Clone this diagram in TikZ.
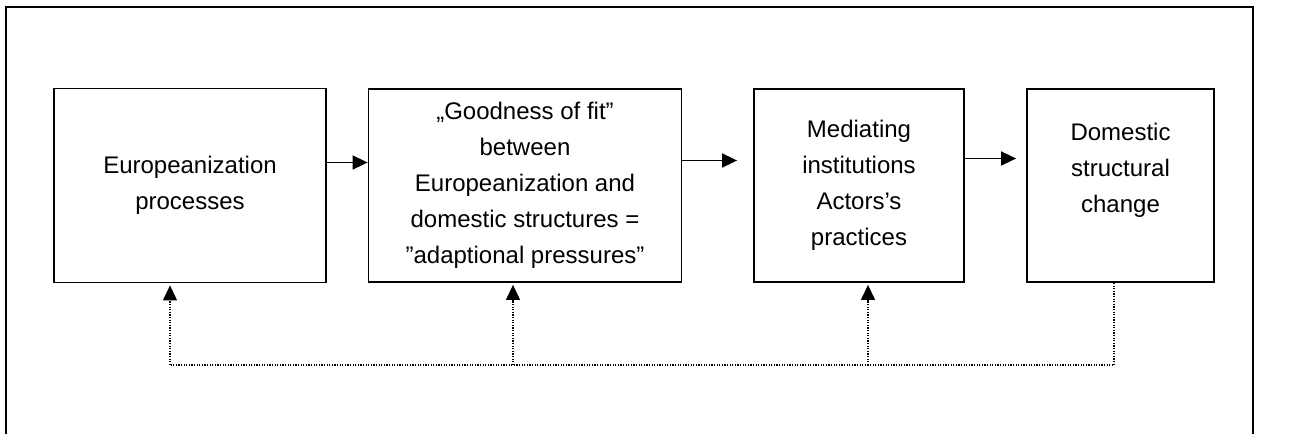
\documentclass[tikz,border=0pt]{standalone}
\usepackage{fontspec}
\setmainfont{Liberation Sans}
\usetikzlibrary{arrows.meta,positioning}

\begin{document}
\begin{tikzpicture}[x=0.5pt,y=-0.5pt,
    stagebox/.style={draw,line width=0.9pt,align=center,inner sep=2pt,
                     font=\fontsize{12}{18}\selectfont},
    flow/.style={line width=0.8pt,-{Triangle[length=7.5pt,width=7pt]}},
    feedback/.style={line width=0.6pt,dash pattern=on 0.6pt off 0.7pt},
    feedarrow/.style={feedback,-{Triangle[length=7.5pt,width=7pt]},shorten >=1pt},
]
\useasboundingbox (0,0) rectangle (1295,434);

% ---- y positions ---------------------------------------------------------
\def\yBox{185.5}
\def\yLoop{365}

% ---- Outer frame ---------------------------------------------------------
\draw[line width=0.8pt] (6,434) -- (6,7) -- (1253,7) -- (1253,434);

% ---- Boxes ---------------------------------------------------------------
\node[stagebox,minimum width=136pt,minimum height=97pt] (europ) at (190,\yBox)
    {Europeanization\\processes};
\node[stagebox,minimum width=156.5pt,minimum height=96.5pt] (fit) at (525,\yBox)
    {„Goodness of fit”\\between\\Europeanization and\\domestic structures =\\”adaptional pressures”};
\node[stagebox,minimum width=105pt,minimum height=96.5pt] (mediate) at (859,\yBox)
    {Mediating\\institutions\\Actors’s\\practices};
\node[stagebox,minimum width=93.5pt,minimum height=96.5pt] (change) at (1120.5,\yBox)
    {Domestic\\structural\\change\\\mbox{}};

% ---- Forward arrows ------------------------------------------------------
\draw[flow] ([yshift=11.5pt]europ.east) -- ([yshift=11.5pt]fit.west);
\draw[flow,shorten >=8pt] ([yshift=12.5pt]fit.east) -- ([yshift=12.5pt]mediate.west);
\draw[flow,shorten >=5pt] ([yshift=13.5pt]mediate.east) -- ([yshift=13.5pt]change.west);

% ---- Feedback loop -------------------------------------------------------
\coordinate (loopR) at ([xshift=-3.25pt]change.south |- 0,\yLoop);
\coordinate (loopL) at ([xshift=-10pt]europ.south |- 0,\yLoop);
\coordinate (loopF) at ([xshift=-6pt]fit.south |- 0,\yLoop);
\coordinate (loopM) at ([xshift=4.5pt]mediate.south |- 0,\yLoop);

\draw[feedback] ([xshift=-3.25pt]change.south) -- (loopR) -- (loopL);
\draw[feedarrow] (loopL) -- ([xshift=-10pt]europ.south);
\draw[feedarrow] (loopF) -- ([xshift=-6pt]fit.south);
\draw[feedarrow] (loopM) -- ([xshift=4.5pt]mediate.south);

\end{tikzpicture}
\end{document}
